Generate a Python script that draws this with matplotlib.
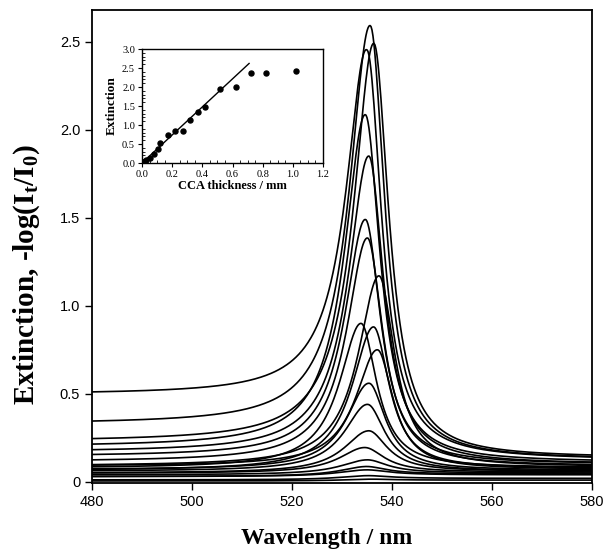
import numpy as np
import matplotlib
matplotlib.use("Agg")
import matplotlib.pyplot as plt
from matplotlib.ticker import MultipleLocator

plt.rcParams['mathtext.fontset'] = 'custom'
plt.rcParams['mathtext.rm'] = 'Liberation Serif:bold'
plt.rcParams['mathtext.it'] = 'Liberation Serif:bold:italic'
plt.rcParams['mathtext.bf'] = 'Liberation Serif:bold'

# Spectra: peak position, peak extinction,
# baseline on the blue side (480 nm) and red side (580 nm), half widths
peak_nm = [535.1, 535.7, 536.4, 534.7, 535.4, 534.7, 535.1, 537.4, 533.8, 536.3,
           537.1, 535.4, 535.1, 535.3, 534.5, 534.9, 534.5, 534.5, 534.5, 535.0]
peak_ext = [2.45, 2.59, 2.49, 2.085, 1.85, 1.49, 1.385, 1.17, 0.90, 0.88,
            0.75, 0.56, 0.44, 0.29, 0.195, 0.125, 0.087, 0.068, 0.035, 0.015]
base_blue = [0.50, 0.33, 0.23, 0.20, 0.17, 0.145, 0.115, 0.09, 0.078, 0.064,
             0.09, 0.07, 0.06, 0.05, 0.049, 0.04, 0.03, 0.03, 0.011, 0.005]
base_red = [0.12, 0.125, 0.135, 0.11, 0.10, 0.10, 0.09, 0.085, 0.08, 0.075,
            0.07, 0.065, 0.06, 0.06, 0.055, 0.05, 0.045, 0.04, 0.02, 0.01]
hw_blue = [5.0, 5.0, 4.9, 5.0, 5.0, 5.0, 5.0, 5.0, 5.2, 5.2,
           5.2, 5.4, 5.6, 6.0, 6.2, 6.5, 6.5, 7.0, 7.0, 7.0]
hw_red = [3.5, 3.5, 3.6, 3.6, 3.6, 3.7, 3.7, 3.8, 3.8, 3.8,
          3.8, 4.0, 4.2, 4.5, 4.8, 5.0, 5.0, 5.5, 5.5, 5.5]

# Inset: peak extinction vs CCA thickness
thickness = [0.0, 0.01, 0.025, 0.05, 0.08, 0.105, 0.12, 0.17, 0.22, 0.27,
             0.32, 0.37, 0.42, 0.52, 0.62, 0.72, 0.82, 1.02]
extinction = [0.0, 0.02, 0.08, 0.14, 0.25, 0.38, 0.52, 0.74, 0.85, 0.84,
              1.13, 1.34, 1.47, 1.94, 1.99, 2.36, 2.37, 2.43]
fit_x = [0.0, 0.71]
fit_y = [0.0, 2.62]

wavelength = np.arange(480, 580.01, 0.2)


def spectrum(lam, c, peak, bl, br, wl, wr):
    step = 0.5 - np.arctan((lam - c) / 3.0) / np.pi
    base = br + (bl - br) * step
    w = np.where(lam < c, wl, wr)
    amp = peak - (bl + br) / 2
    return base + amp * w**2 / ((lam - c)**2 + w**2)


fig = plt.figure(figsize=(6.05, 5.5), dpi=100)
ax = fig.add_axes([0.152, 0.121, 0.8265, 0.861])

for i in range(len(peak_nm)):
    y = spectrum(wavelength, peak_nm[i], peak_ext[i], base_blue[i], base_red[i],
                 hw_blue[i], hw_red[i])
    ax.plot(wavelength, y, color='black', lw=1.2)

ax.set_xlim(480, 580)
ax.set_ylim(-0.009, 2.68)
ax.set_xticks([480, 500, 520, 540, 560, 580])
ax.set_yticks([0, 0.5, 1.0, 1.5, 2.0, 2.5])
ax.set_yticklabels(['0', '0.5', '1.0', '1.5', '2.0', '2.5'])
ax.tick_params(direction='out', length=5, width=1.0, labelsize=10.5)
for lab in ax.get_xticklabels() + ax.get_yticklabels():
    lab.set_family('Liberation Sans')
for s in ax.spines.values():
    s.set_linewidth(1.3)
ax.set_xlabel('Wavelength / nm', family='Liberation Serif', weight='bold',
              fontsize=17)
ax.xaxis.set_label_coords(0.47, -0.117)
ax.set_ylabel(r'Extinction, -log(I$_\mathrm{t}$/I$_\mathrm{0}$)',
              family='Liberation Serif', weight='bold', fontsize=21)
ax.yaxis.set_label_coords(-0.13, 0.44)
ax.yaxis.label.set_va('center')
ax.xaxis.label.set_va('center')

# inset
ins = fig.add_axes([0.2347, 0.7036, 0.2992, 0.2073])
ins.plot(thickness, extinction, 'o', color='black', ms=3.6)
ins.plot(fit_x, fit_y, color='black', lw=1.0)
ins.set_xlim(0, 1.2)
ins.set_ylim(0, 3.0)
ins.set_xticks(np.arange(0, 1.21, 0.2))
ins.set_yticks(np.arange(0, 3.01, 0.5))
ins.set_xticklabels(['%.1f' % v for v in np.arange(0, 1.21, 0.2)])
ins.set_yticklabels(['%.1f' % v for v in np.arange(0, 3.01, 0.5)])
ins.xaxis.set_minor_locator(MultipleLocator(0.05))
ins.yaxis.set_minor_locator(MultipleLocator(0.1))
ins.tick_params(which='major', direction='out', length=3, width=0.8, labelsize=7.5, pad=2)
ins.tick_params(which='minor', direction='in', length=2, width=0.6)
for lab in ins.get_xticklabels() + ins.get_yticklabels():
    lab.set_family('Liberation Serif')
for s in ins.spines.values():
    s.set_linewidth(1.0)
ins.set_xlabel('CCA thickness / mm', family='Liberation Serif', weight='bold',
               fontsize=9, labelpad=1)
ins.set_ylabel('Extinction', family='Liberation Serif', weight='bold',
               fontsize=9.5, labelpad=3)

fig.savefig('out.png', dpi=100)
